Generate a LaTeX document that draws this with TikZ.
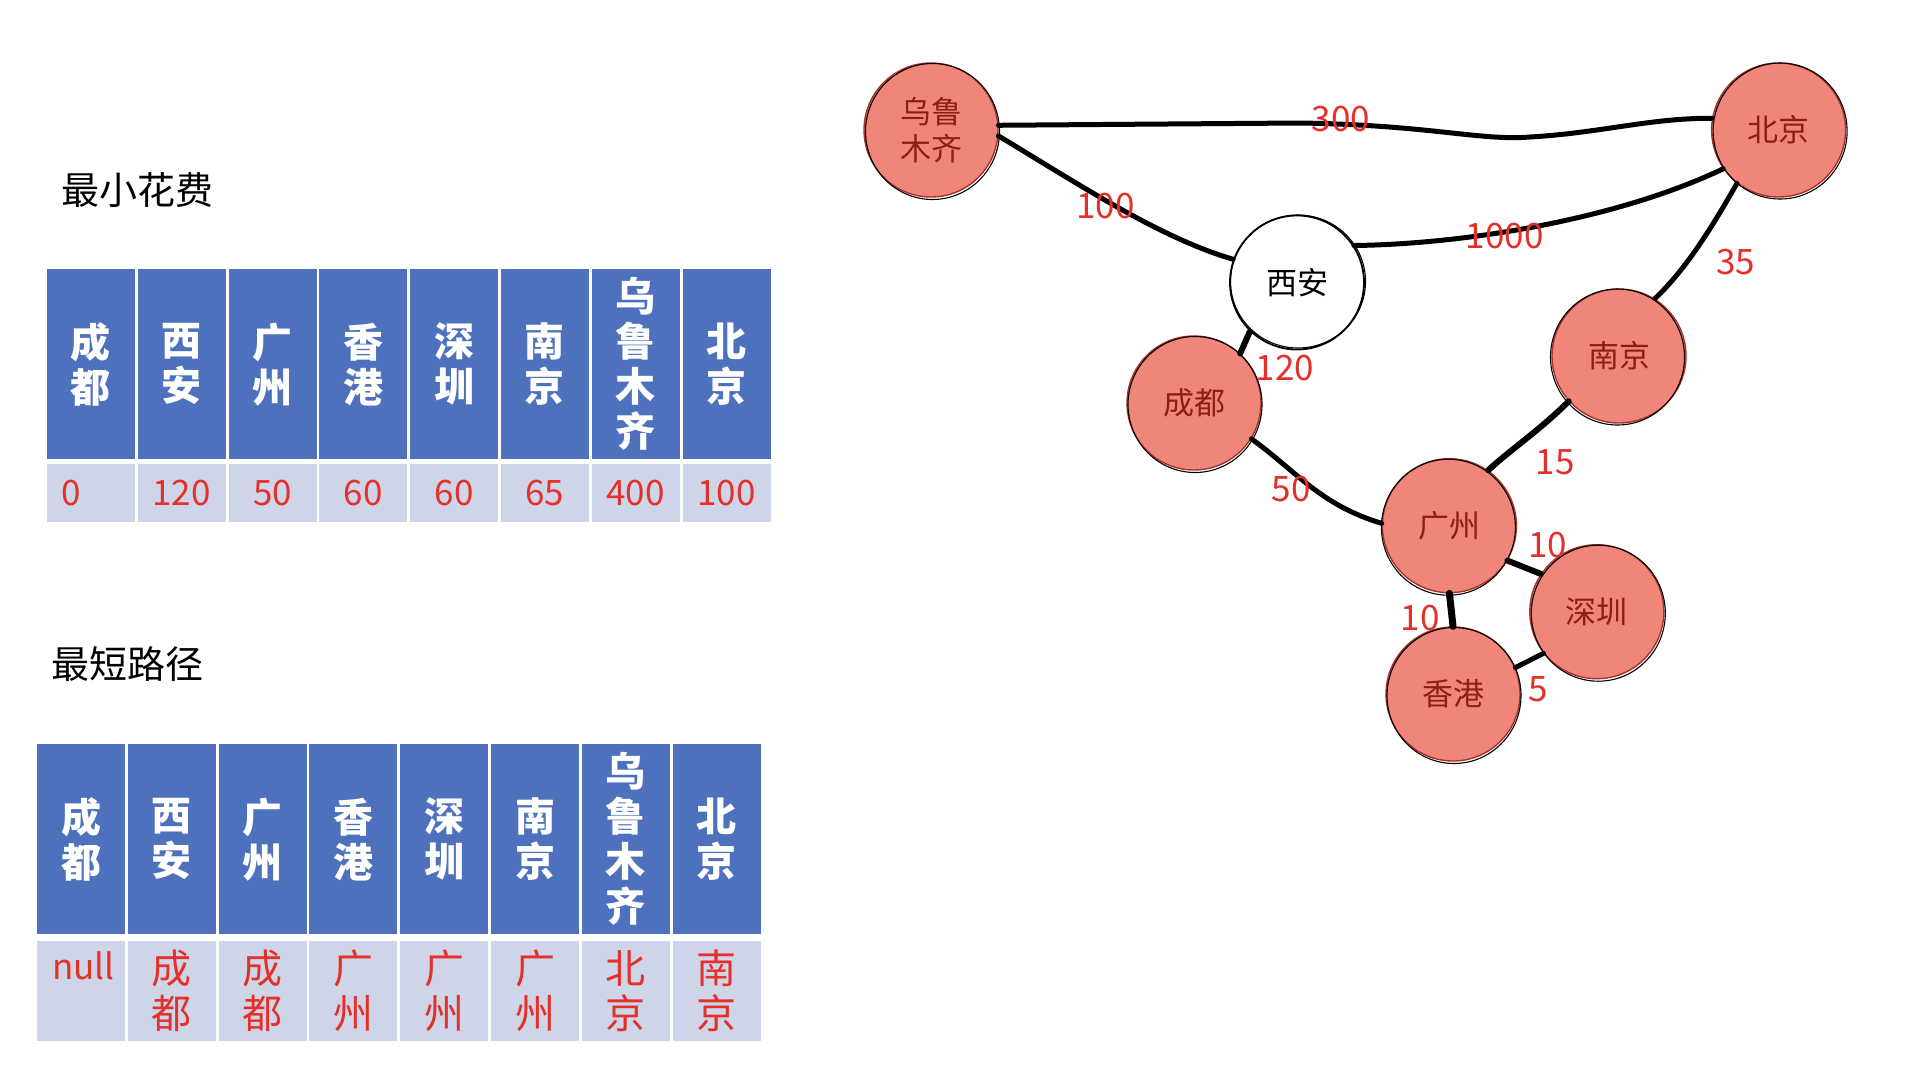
\documentclass[tikz,border=0pt]{standalone}
\usepackage{fontspec}
\setmainfont{Noto Sans CJK SC}
\usetikzlibrary{calc}
\definecolor{hdrblue}{HTML}{4E71BE}
\definecolor{cellgray}{HTML}{CFD5E8}
\definecolor{numred}{HTML}{E5302A}
\definecolor{nodefill}{HTML}{F08579}
\definecolor{nodeedge}{HTML}{A8322A}
\definecolor{nodetext}{HTML}{8B1E16}
\begin{document}
\begin{tikzpicture}[x=1pt,y=-1pt,
  hdr/.style={fill=hdrblue, text=white, minimum width=88pt, minimum height=190pt, inner sep=0pt, align=center, anchor=north west, font=\bfseries\fontsize{40}{45}\selectfont},
  datone/.style={fill=cellgray, text=numred, minimum width=88pt, minimum height=58pt, inner sep=0pt, anchor=north west, font=\fontsize{35}{40}\selectfont},
  dattwo/.style={fill=cellgray, text=numred, minimum width=88pt, minimum height=100pt, inner sep=0pt, align=center, anchor=north west, font=\fontsize{40}{45}\selectfont},
  title/.style={anchor=west, inner sep=0pt, font=\fontsize{38}{42}\selectfont},
  city/.style={circle, minimum size=134pt, inner sep=0pt, fill=nodefill, draw=nodeedge, line width=1.4pt, text=nodetext, align=center, font=\fontsize{31}{37}\selectfont},
  cityw/.style={circle, minimum size=134pt, inner sep=0pt, fill=white, draw=black, line width=1.8pt, text=black, font=\fontsize{31}{37}\selectfont},
  sketch/.style={draw=black, line width=1.1pt},
  road/.style={draw=black, line width=5pt, line cap=round},
  wt/.style={text=numred, inner sep=0pt, font=\fontsize{35}{40}\selectfont}
]
\useasboundingbox (0,0) rectangle (1926,1074);

% titles
\node[title] (t1) at (61.4,190) {最小花费};
\node[title] (t2) at (51.6,664) {最短路径};

% table 1
\foreach \i/\h in {0/成\\都,1/西\\安,2/广\\州,3/香\\港,4/深\\圳,5/南\\京,6/乌\\鲁\\木\\齐,7/北\\京}{
  \node[hdr] (ha\i) at ({46.7+90.8*\i},269) {\h};
}
\node[datone] (da0) at (46.7,464) {};
\node[wt, anchor=west] (va0) at ($(da0.west)+(15,0)$) {0};
\foreach \i/\v in {1/120,2/50,3/60,4/60,5/65,6/400,7/100}{
  \node[datone] (da\i) at ({46.7+90.8*\i},464) {\v};
}

% table 2
\foreach \i/\h in {0/成\\都,1/西\\安,2/广\\州,3/香\\港,4/深\\圳,5/南\\京,6/乌\\鲁\\木\\齐,7/北\\京}{
  \node[hdr] (hb\i) at ({36.8+90.8*\i},744) {\h};
}
\node[dattwo] (db0) at (36.8,941) {};
\node[wt, anchor=north west] (vb0) at ($(db0.north west)+(15,10)$) {null};
\foreach \i/\v in {1/成\\都,2/成\\都,3/广\\州,4/广\\州,5/广\\州,6/北\\京,7/南\\京}{
  \node[dattwo] (db\i) at ({36.8+90.8*\i},941) {\v};
}

% graph nodes
\node[city] (wlmq) at (931,130) {乌鲁\\木齐};
\node[city] (bj) at (1778.6,130) {北京};
\node[cityw] (xa) at (1297,282.5) {西安};
\node[city] (cd) at (1194,403) {成都};
\node[city] (nj) at (1619,356) {南京};
\node[city] (gz) at (1449.4,525.7) {广州};
\node[city] (sz) at (1596.8,611.7) {深圳};
\node[city] (hk) at (1453,694) {香港};

% sketchy outlines
\foreach \n/\dx/\dy in {wlmq/1.5/1.5,bj/1.5/1,cd/1/1.5,nj/-1.5/1,gz/-1/1.5,sz/1.5/1.5,hk/1/1.5}{
  \draw[sketch] ($(\n.center)+(\dx,\dy)$) circle[x radius=67pt, y radius=68pt];
}
\draw[sketch] ($(xa.center)+(1,-1)$) circle[x radius=67.5pt, y radius=66.5pt];

% edges
\draw[road] (wlmq.4) -- (1300,123) .. controls (1430,125) and (1480,141) .. (1530,137) .. controls (1600,133) and (1650,118) .. (bj.170);
\draw[road] (wlmq.-5) .. controls (1080,185) and (1160,238) .. (xa.160);
\draw[road] (xa.33) .. controls (1470,244) and (1620,218) .. (bj.215);
\draw[road] (bj.232) .. controls (1705,240) and (1680,275) .. (nj.58);
\draw[road, line width=6pt] (xa.226) -- (cd.47);
\draw[road] (cd.-32) .. controls (1295,470) and (1320,505) .. (gz.178);
\draw[road, line width=6pt] (nj.222) .. controls (1540,430) and (1510,450) .. (gz.55);
\draw[road, line width=6pt] (gz.-31) -- (sz.146);
\draw[road, line width=7pt] (gz.270) -- (hk.90);
\draw[road] (sz.218) -- (hk.23);

% edge labels
\node[wt] (w300) at (1341,119) {300};
\node[wt] (w100) at (1105.5,206) {100};
\node[wt] (w1000) at (1504.7,236) {1000};
\node[wt] (w35) at (1735.6,261.6) {35};
\node[wt] (w120) at (1284.8,368.5) {120};
\node[wt] (w50) at (1291,489) {50};
\node[wt] (w15) at (1555,462) {15};
\node[wt] (w10a) at (1547.6,545.4) {10};
\node[wt] (w10b) at (1420,617.8) {10};
\node[wt] (w5) at (1537.8,689) {5};
\end{tikzpicture}
\end{document}
